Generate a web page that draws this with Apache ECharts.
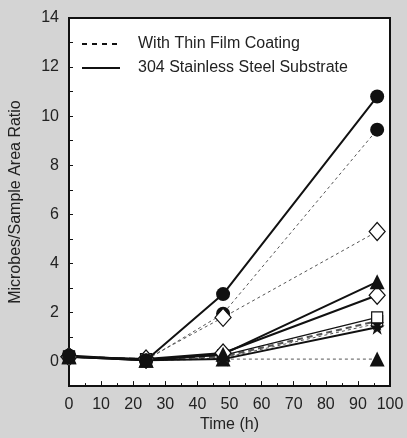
<!DOCTYPE html>
<html><head><meta charset="utf-8">
<script src="https://cdn.jsdelivr.net/npm/echarts@6/dist/echarts.min.js"></script>
<style>html,body{margin:0;padding:0;background:#d4d4d4}#c{width:407px;height:438px}</style>
</head><body><div id="c"></div>
<script>
const times = [0, 24, 48, 96];
const xTicks = [0,10,20,30,40,50,60,70,80,90,100];
const yTicks = [0,2,4,6,8,10,12,14];
// coated (dashed)
const coatedCircle   = [0.2, 0.05, 1.95, 9.45];
const coatedDiamond  = [0.2, 0.1, 1.8, 5.3];
const coatedTriangle = [0.2, 0.05, 0.1, 0.1];
const coatedSquare   = [0.2, 0.1, 0.2, 1.65];
const coatedStar     = [0.2, 0.05, 0.15, 1.55];
// uncoated 304 SS (solid)
const ssCircle   = [0.25, 0.05, 2.75, 10.8];
const ssDiamond  = [0.2, 0.1, 0.35, 2.7];
const ssTriangle = [0.2, 0.05, 0.3, 3.25];
const ssSquare   = [0.2, 0.1, 0.25, 1.8];
const ssStar     = [0.2, 0.05, 0.1, 1.4];

const STAR = 'path://M50,0 L61,35 L98,35 L68,57 L79,91 L50,70 L21,91 L32,57 L2,35 L39,35 Z';
function pts(v){ return times.map((t,i)=>[t,v[i]]); }
function mk(name, vals, symbol, size, filled, dashed, lw, dashType){
  return {
    name: name, type:'line', data: pts(vals), symbol: symbol, symbolSize: size,
    showSymbol:true, animation:false, z: dashed?2:3,
    lineStyle:{color: dashed?'#555':'#111', width: lw, type: dashed?(dashType||[3,3]):'solid'},
    itemStyle:{color: filled?'#111':'#fff', borderColor:'#111', borderWidth: filled?0:1.2, opacity:1},
    emphasis:{disabled:true}
  };
}
const series = [
  mk('c1', coatedTriangle, 'triangle', 15, true, true, 1),
  mk('c2', coatedSquare, 'rect', 11, false, true, 2, [6,4]),
  mk('c3', coatedStar, STAR, 14, true, true, 1),
  mk('c5', coatedCircle, 'circle', 14, true, true, 1),
  mk('c4', coatedDiamond, 'diamond', [16,18], false, true, 1),
  mk('s1', ssStar, STAR, 15, true, false, 2),
  mk('s2', ssSquare, 'rect', 11, false, false, 1.2),
  mk('s3', ssDiamond, 'diamond', [16,18], false, false, 2),
  mk('s4', ssTriangle, 'triangle', 15, true, false, 2),
  mk('s5', ssCircle, 'circle', 14, true, false, 2),
  {name:'With Thin Film Coating', type:'line', data:[], symbol:'none', lineStyle:{color:'#111', width:1.2, type:[5,5]}, itemStyle:{color:'#111'}},
  {name:'304 Stainless Steel Substrate', type:'line', data:[], symbol:'none', lineStyle:{color:'#111', width:1.5}, itemStyle:{color:'#111'}}
];
const font = '"Liberation Sans", Arial, sans-serif';
const chart = echarts.init(document.getElementById('c'));
chart.setOption({
  backgroundColor:'#d4d4d4',
  textStyle:{fontFamily:font},
  animation:false,
  grid:{left:63, right:17, top:18, bottom:51, show:true, backgroundColor:'#fff', borderColor:'#111', borderWidth:2},
  legend:{
    data:['With Thin Film Coating','304 Stainless Steel Substrate'],
    orient:'vertical', left:76, top:31, itemWidth:38, itemHeight:10, itemGap:8,
    selectedMode:false,
    itemStyle:{opacity:0},
    textStyle:{fontSize:16, color:'#222', fontFamily:font, padding:[0,0,0,13]}
  },
  xAxis:{
    type:'value', min:0, max:100, interval:10,
    name:'Time (h)', nameLocation:'middle', nameGap:27,
    nameTextStyle:{fontSize:16, color:'#222', fontFamily:font},
    axisLine:{show:true, onZero:false, lineStyle:{color:'#111', width:2}},
    axisTick:{show:true, inside:true, length:5, lineStyle:{color:'#111', width:1}},
    minorTick:{show:true, splitNumber:2, length:3, lineStyle:{color:'#111', width:1}},
    axisLabel:{fontSize:16, color:'#222', margin:10, fontFamily:font,
      formatter:v=>xTicks.includes(v)?String(v):''},
    splitLine:{show:false}
  },
  yAxis:{
    type:'value', min:-1, max:14, interval:1,
    name:'Microbes/Sample Area Ratio', nameLocation:'middle', nameGap:45,
    nameTextStyle:{fontSize:16, color:'#222', fontFamily:font},
    axisLine:{show:true, onZero:false, lineStyle:{color:'#111', width:2}},
    axisTick:{show:true, inside:true, length:4, lineStyle:{color:'#111', width:1}},
    axisLabel:{fontSize:16, color:'#222', margin:10, fontFamily:font,
      formatter:v=>yTicks.includes(v)?String(v):''},
    splitLine:{show:false}
  },
  series: series
});
</script></body></html>
